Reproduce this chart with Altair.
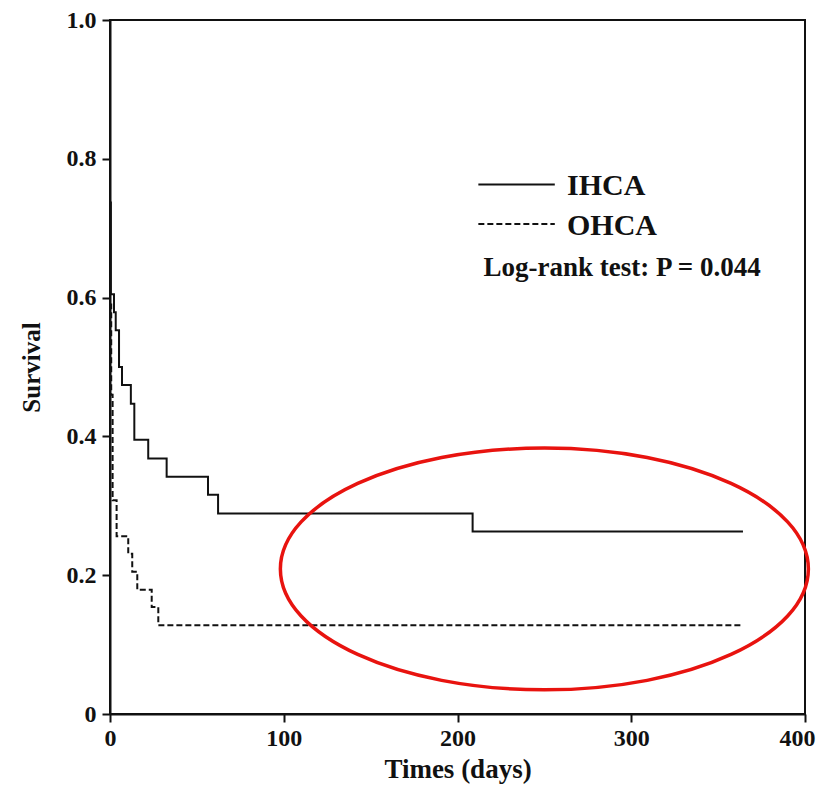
import altair as alt
import pandas as pd

# Kaplan-Meier step data (time in days, survival after the step)
ihca_time = [0, 0.5, 2.3, 3.3, 5.2, 6.9, 12.0, 14.0, 22.0, 32.6, 56.4, 62.2, 208.7, 364.3]
ihca_surv = [0.737, 0.605, 0.579, 0.553, 0.500, 0.474, 0.447, 0.395, 0.368, 0.342, 0.316, 0.289, 0.263, 0.263]

ohca_time = [0, 0.7, 1.5, 3.8, 10.5, 12.8, 15.7, 24.0, 27.8, 364.3]
ohca_surv = [0.590, 0.460, 0.308, 0.256, 0.231, 0.205, 0.179, 0.154, 0.128, 0.128]

groups = ["IHCA", "OHCA"]
x_ticks = [0, 100, 200, 300, 400]
y_ticks = [0, 0.2, 0.4, 0.6, 0.8, 1.0]

# legend key placement (data coordinates)
legend_x1 = [212, 212]
legend_x2 = [256, 256]
legend_line_y = [0.763, 0.706]
legend_text_x = [263, 263]
legend_text_y = [0.761, 0.703]

annot_text = ["Log-rank test: P = 0.044"]
annot_x = [215]
annot_y = [0.642]

ellipse_x = [250]
ellipse_y = [0.209]

FONT = "Liberation Serif"

df = pd.concat([
    pd.DataFrame({"time": ihca_time, "surv": ihca_surv, "group": "IHCA", "order": range(len(ihca_time))}),
    pd.DataFrame({"time": ohca_time, "surv": ohca_surv, "group": "OHCA", "order": range(len(ohca_time))}),
])

x_scale = alt.Scale(domain=[0, 400], nice=False, zero=False)
y_scale = alt.Scale(domain=[0, 1], nice=False)
dash_scale = alt.Scale(domain=groups, range=[[1, 0], [6, 3]])

lines = alt.Chart(df).mark_line(interpolate="step-after", strokeWidth=2, color="#111").encode(
    x=alt.X("time:Q", scale=x_scale, title="Times (days)",
            axis=alt.Axis(values=x_ticks, format="d", labelFlush=False,
                          labelAlign={"condition": {"test": "datum.value == 400", "value": "right"},
                                      "value": "center"},
                          labelOffset={"condition": {"test": "datum.value == 400", "value": 10},
                                       "value": 0})),
    y=alt.Y("surv:Q", scale=y_scale, title="Survival",
            axis=alt.Axis(values=y_ticks, labelFlush=False,
                          labelExpr="datum.value == 0 ? '0' : format(datum.value, '.1f')")),
    strokeDash=alt.StrokeDash("group:N", scale=dash_scale, legend=None),
    order="order:Q",
)

leg_df = pd.DataFrame({"group": groups, "x1": legend_x1, "x2": legend_x2, "ly": legend_line_y,
                       "tx": legend_text_x, "ty": legend_text_y})

leg_lines = alt.Chart(leg_df).mark_rule(strokeWidth=2, color="#111").encode(
    x=alt.X("x1:Q", scale=x_scale), x2="x2:Q",
    y=alt.Y("ly:Q", scale=y_scale),
    strokeDash=alt.StrokeDash("group:N", scale=dash_scale, legend=None),
)

leg_text = alt.Chart(leg_df).mark_text(
    align="left", baseline="middle", font=FONT, fontSize=30, fontWeight="bold", color="#111"
).encode(x=alt.X("tx:Q", scale=x_scale), y=alt.Y("ty:Q", scale=y_scale), text="group:N")

text = alt.Chart(pd.DataFrame({"t": annot_text, "x": annot_x, "y": annot_y})).mark_text(
    align="left", baseline="middle", font=FONT, fontSize=27, fontWeight="bold", color="#111"
).encode(x=alt.X("x:Q", scale=x_scale), y=alt.Y("y:Q", scale=y_scale), text="t:N")

ellipse = alt.Chart(pd.DataFrame({"x": ellipse_x, "y": ellipse_y})).mark_point(
    shape="M-1,0A1,0.458 0 1,0 1,0A1,0.458 0 1,0 -1,0",
    size=278784, filled=False, stroke="#e8130f", strokeWidth=3.5, opacity=1
).encode(x=alt.X("x:Q", scale=x_scale), y=alt.Y("y:Q", scale=y_scale))

chart = alt.layer(lines, leg_lines, leg_text, text, ellipse).properties(
    width=695, height=694,
    autosize=alt.AutoSizeParams(type="none"),
    padding={"left": 102, "top": 12, "right": 11, "bottom": 70},
).configure_view(
    stroke="#111", strokeWidth=2
).configure_axis(
    grid=False, domainColor="#111", domainWidth=2, tickColor="#111", tickWidth=2,
    tickSize=8, labelFont=FONT, labelFontWeight="bold", labelColor="#111",
    titleFont=FONT, titleFontWeight="bold", titleColor="#111"
).configure_axisX(
    labelFontSize=24, labelPadding=4, titleFontSize=27, titlePadding=6
).configure_axisY(
    labelFontSize=24, labelPadding=6, titleFontSize=25, titlePadding=22
)

chart.save("out.html", embed_options={"renderer": "svg", "actions": False})
